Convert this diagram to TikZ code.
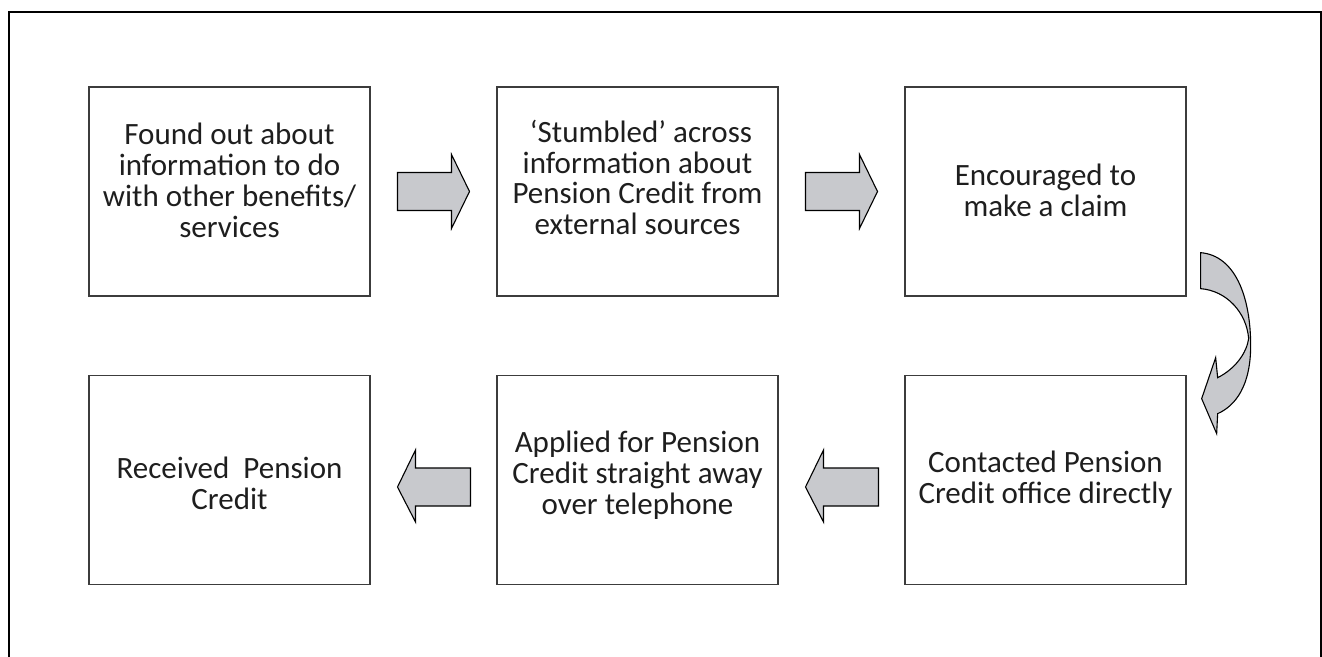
\documentclass[tikz,border=0pt]{standalone}
\usepackage{fontspec}
\setmainfont{Carlito}
\usetikzlibrary{calc}
\definecolor{arrowfill}{RGB}{200,201,205}
\definecolor{boxline}{RGB}{60,60,60}
\definecolor{inktext}{RGB}{30,30,30}
\tikzset{
  stepbox/.style={draw=boxline, line width=1.3pt, minimum width=281pt, minimum height=209pt, inner sep=0pt},
  steptext/.style={align=center, text=inktext, inner sep=0pt,
    font=\fontsize{31pt}{30.8pt}\selectfont},
  blockarrow/.style={draw=black, line width=1.1pt, fill=arrowfill, line join=miter},
}
\begin{document}
\begin{tikzpicture}[x=1pt, y=-1pt]
  \useasboundingbox (0,0) rectangle (1322,656);
  % outer frame, open at the bottom
  \draw[line width=2.6pt] (9,680) -- (9,12) -- (1321,12) -- (1321,680);

  % step boxes: top row left to right, bottom row right to left
  \node[stepbox] (b1) at (229.5,191.5) {};
  \node[stepbox] (b2) at (637.5,191.5) {};
  \node[stepbox] (b3) at (1045.5,191.5) {};
  \node[stepbox] (b6) at (1045.5,480) {};
  \node[stepbox] (b5) at (637.5,480) {};
  \node[stepbox] (b4) at (229.5,480) {};

  % box captions
  \node[steptext] (t1) at ([yshift=11pt]b1.center) {Found out about\\information to do\\with other benefits/\\services};
  \node[steptext] (t2) at ([yshift=14pt]b2.center) {\ ‘Stumbled’ across\\information about\\Pension Credit from\\external sources};
  \node[steptext] (t3) at ([yshift=1pt]b3.center) {Encouraged to\\make a claim};
  \node[steptext] (t6) at (b6.center) {Contacted Pension\\Credit office directly};
  \node[steptext] (t5) at ([yshift=5pt]b5.center) {Applied for Pension\\Credit straight away\\over telephone};
  \node[steptext] (t4) at ([yshift=-3pt]b4.center) {Received\ \ Pension\\Credit};

  % block arrows between neighbouring boxes
  \coordinate (m12) at ($(b1.east)!0.5!(b2.west)$);
  \coordinate (m23) at ($(b2.east)!0.5!(b3.west)$);
  \coordinate (m65) at ($(b6.west)!0.5!(b5.east)+(0,7)$);
  \coordinate (m54) at ($(b5.west)!0.5!(b4.east)+(0,7)$);
  \foreach \m in {m12,m23}{
    \begin{scope}[shift={(\m)}]
      \draw[blockarrow] (-36,-19) -- (18,-19) -- (18,-37) -- (36,0) -- (18,37) -- (18,19) -- (-36,19) -- cycle;
    \end{scope}
  }
  \foreach \m in {m65,m54}{
    \begin{scope}[shift={(\m)}]
      \draw[blockarrow] (37,-19) -- (-18,-19) -- (-18,-37) -- (-36,0) -- (-18,35) -- (-18,19) -- (37,19) -- cycle;
    \end{scope}
  }

  % curved arrow turning from the top row down to the bottom row
  \begin{scope}[shift={(b3.south east)}]
    \draw[blockarrow]
      (14,-44) .. controls (49,-41) and (64,1) .. (64,49)
      .. controls (64,89) and (49,109) .. (31,117)
      -- (30,137) -- (15,102) -- (29,61) -- (31,81)
      .. controls (49,72) and (60,56) .. (62,42)
      .. controls (60,16) and (40,-6) .. (14,-8) -- cycle;
  \end{scope}
\end{tikzpicture}
\end{document}
